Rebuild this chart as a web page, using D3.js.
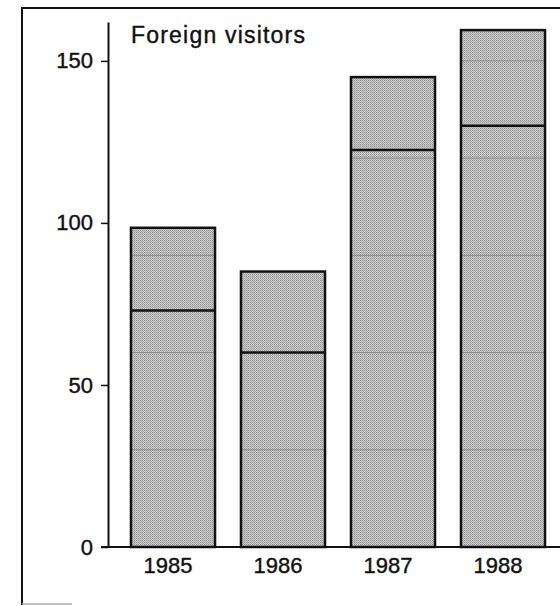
<!DOCTYPE html>
<html>
<head>
<meta charset="utf-8">
<script src="https://cdn.jsdelivr.net/npm/d3@7"></script>
<style>
  body { margin: 0; background: #fff; }
  svg { display: block; font-family: "Liberation Sans", Arial, sans-serif; }
</style>
</head>
<body>
<div id="vis"></div>
<script>
var years = ['1985', '1986', '1987', '1988'];
var lowerValues = [73, 60, 122.5, 130];
var totalValues = [98.5, 85, 145, 159.5];
var yTicks = [0, 50, 100, 150];
var innerLines = [30, 60, 90, 120, 150];

var width = 560,
    height = 606;

var svg = d3.select('#vis')
  .append('svg')
    .attr('width', width)
    .attr('height', height);

// halftone look for the bars
var defs = svg.append('defs');
var pat = defs.append('pattern')
    .attr('id', 'dots')
    .attr('width', 2)
    .attr('height', 2)
    .attr('patternUnits', 'userSpaceOnUse');
pat.append('rect').attr('width', 2).attr('height', 2).attr('fill', '#cacaca');
pat.append('rect').attr('width', 1).attr('height', 1).attr('fill', '#959595');
pat.append('rect').attr('x', 1).attr('y', 1).attr('width', 1).attr('height', 1).attr('fill', '#ababab');

// frame (scanned page edge)
svg.append('path')
  .attr('d', 'M22,605 L22,8 L562,8')
  .attr('fill', 'none')
  .attr('stroke', '#111')
  .attr('stroke-width', 2);
svg.append('line')
  .attr('x1', 22).attr('x2', 72)
  .attr('y1', 604).attr('y2', 604)
  .attr('stroke', '#aaa')
  .attr('stroke-width', 1.5);

var yScale = d3.scaleLinear()
  .domain([0, 162])
  .range([547, 22]);

var xScale = d3.scaleBand()
  .domain(years)
  .range([118, 558])
  .paddingInner(0.236)
  .paddingOuter(0.118);

var data = years.map(function(y, i) {
  return { year: y, lower: lowerValues[i], total: totalValues[i] };
});

var bars = svg.selectAll('g.bar')
  .data(data)
  .enter()
  .append('g')
    .attr('class', 'bar');

bars.append('rect')
  .attr('x', function(d) { return xScale(d.year); })
  .attr('y', function(d) { return yScale(d.total); })
  .attr('width', xScale.bandwidth())
  .attr('height', function(d) { return yScale(0) - yScale(d.total); })
  .attr('fill', 'url(#dots)');

// faint screen lines visible inside the bars
bars.each(function(d) {
  var g = d3.select(this);
  innerLines.filter(function(v) { return v < d.total; }).forEach(function(v) {
    g.append('line')
      .attr('x1', xScale(d.year))
      .attr('x2', xScale(d.year) + xScale.bandwidth())
      .attr('y1', yScale(v))
      .attr('y2', yScale(v))
      .attr('stroke', '#8c8c8c')
      .attr('stroke-width', 1);
  });
});

bars.append('rect')
  .attr('x', function(d) { return xScale(d.year); })
  .attr('y', function(d) { return yScale(d.total); })
  .attr('width', xScale.bandwidth())
  .attr('height', function(d) { return yScale(0) - yScale(d.total); })
  .attr('fill', 'none')
  .attr('stroke', '#111')
  .attr('stroke-width', 2.5);

bars.append('line')
  .attr('x1', function(d) { return xScale(d.year); })
  .attr('x2', function(d) { return xScale(d.year) + xScale.bandwidth(); })
  .attr('y1', function(d) { return yScale(d.lower); })
  .attr('y2', function(d) { return yScale(d.lower); })
  .attr('stroke', '#111')
  .attr('stroke-width', 2.5);

// y axis
var yAxis = svg.append('g')
  .attr('transform', 'translate(108,0)')
  .call(d3.axisLeft(yScale).tickValues(yTicks).tickSize(7).tickPadding(8).tickSizeOuter(0));
yAxis.select('.domain').attr('stroke', '#111').attr('stroke-width', 2);
yAxis.selectAll('.tick line').attr('stroke', '#111').attr('stroke-width', 1.5);
yAxis.selectAll('.tick text')
  .attr('font-size', 22)
  .attr('fill', '#111')
  .attr('stroke', '#111')
  .attr('stroke-width', 0.4)
  .attr('font-family', '"Liberation Sans", Arial, sans-serif');

// x axis baseline
var xAxis = svg.append('g')
  .attr('transform', 'translate(0,' + yScale(0) + ')')
  .call(d3.axisBottom(xScale).tickSize(0).tickPadding(10));
xAxis.select('.domain')
  .attr('d', 'M101,0H562')
  .attr('stroke', '#111')
  .attr('stroke-width', 2);
xAxis.selectAll('.tick text')
  .attr('font-size', 22)
  .attr('dx', -5)
  .attr('fill', '#111')
  .attr('stroke', '#111')
  .attr('stroke-width', 0.4)
  .attr('font-family', '"Liberation Sans", Arial, sans-serif');

svg.append('text')
  .attr('x', 131)
  .attr('y', 43)
  .attr('font-size', 23)
  .attr('letter-spacing', 1.2)
  .attr('fill', '#111')
  .attr('stroke', '#111')
  .attr('stroke-width', 0.4)
  .text('Foreign visitors');
</script>
</body>
</html>
